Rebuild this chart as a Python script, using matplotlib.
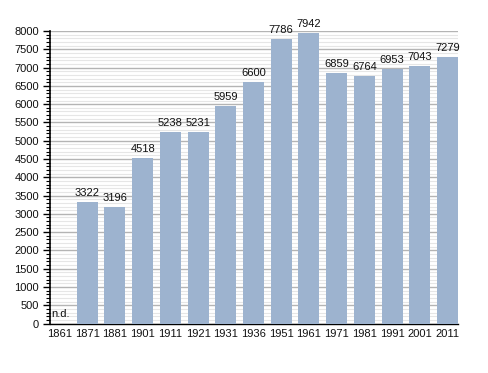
import matplotlib
matplotlib.use("Agg")
import matplotlib.pyplot as plt
from matplotlib.ticker import MultipleLocator

# census years and population
years = ['1861', '1871', '1881', '1901', '1911', '1921', '1931', '1936',
         '1951', '1961', '1971', '1981', '1991', '2001', '2011']
population = [0, 3322, 3196, 4518, 5238, 5231, 5959, 6600,
              7786, 7942, 6859, 6764, 6953, 7043, 7279]
value_labels = ['n.d.', '3322', '3196', '4518', '5238', '5231', '5959', '6600',
                '7786', '7942', '6859', '6764', '6953', '7043', '7279']

plt.rcParams['font.family'] = ['Liberation Sans', 'DejaVu Sans']

fig = plt.figure(figsize=(4.88, 3.73), dpi=100)
ax = fig.add_axes([0.1025, 0.1327, 0.836, 0.784])

x = list(range(len(years)))
ax.bar(x, population, width=0.76, color='#9db3cf', zorder=3)

fs = 8
for i, (v, lab) in enumerate(zip(population, value_labels)):
    if lab == 'n.d.':
        ax.text(i - 0.3, 110, lab, ha='left', va='bottom', fontsize=fs,
                color='#111111', zorder=4)
    else:
        ax.text(i, v + 110, lab, ha='center', va='bottom', fontsize=fs,
                color='#111111', clip_on=False, zorder=4)

ax.set_xlim(-0.343, 14.38)
ax.set_ylim(0, 8000)
ax.set_xticks(x)
ax.set_xticklabels(years)
ax.yaxis.set_major_locator(MultipleLocator(500))
ax.yaxis.set_minor_locator(MultipleLocator(100))

ax.grid(which='major', axis='y', color='#b4b4b4', linewidth=1.0, zorder=1)
ax.grid(which='minor', axis='y', color='#e6e6e6', linewidth=0.8, zorder=0)

for s in ['top', 'right']:
    ax.spines[s].set_visible(False)
ax.spines['left'].set_linewidth(1.2)
ax.spines['bottom'].set_linewidth(1.0)

ax.tick_params(axis='x', length=0, pad=4, labelsize=fs, labelcolor='#111111')
ax.tick_params(axis='y', which='major', length=5, width=1.0, labelsize=fs,
               pad=3, labelcolor='#111111')
ax.tick_params(axis='y', which='minor', length=3, width=0.8)

fig.savefig('out.png', dpi=100)
